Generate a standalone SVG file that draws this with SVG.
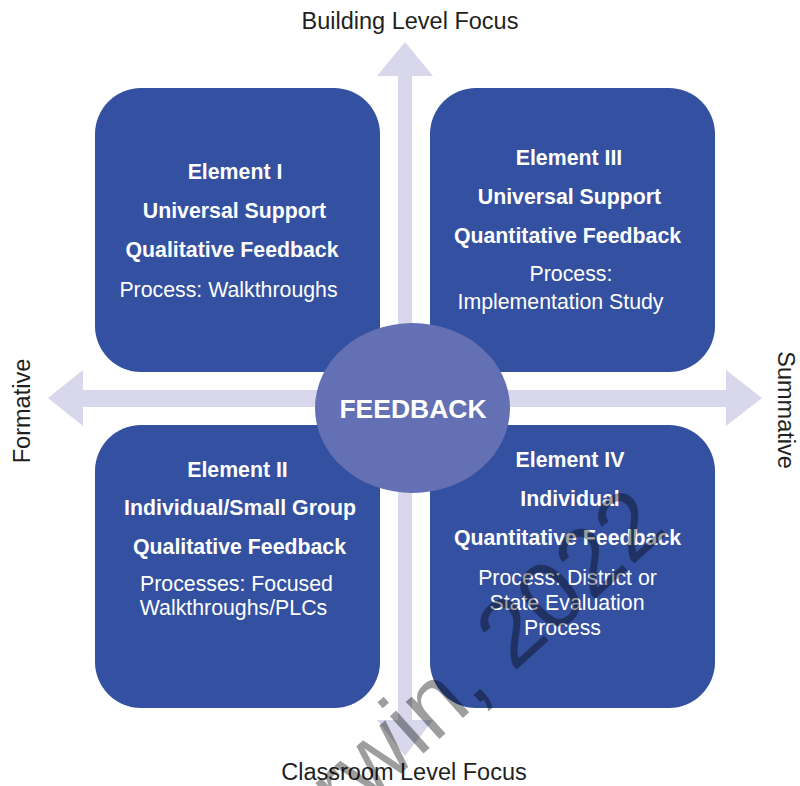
<svg xmlns="http://www.w3.org/2000/svg" width="800" height="786" viewBox="0 0 800 786">
<style>
.box{fill:#3450A0}
.b{font-family:"Liberation Sans",Arial,sans-serif;font-weight:bold;font-size:21.3px;fill:#fff;text-anchor:middle}
.r{font-family:"Liberation Sans",Arial,sans-serif;font-size:21.3px;fill:#fff;text-anchor:middle}
.lbl{font-family:"Liberation Sans",Arial,sans-serif;font-size:23.5px;fill:#231f20;text-anchor:middle}
.ar{fill:#D9D7EC}
</style>
<rect width="800" height="786" fill="#fff"/>
<g id="connectors">
<rect class="ar" x="398" y="74" width="14" height="648"/>
<polygon class="ar" points="405,42 433,76 377,76"/>
<polygon class="ar" points="405,756 433,720 377,720"/>
<rect class="ar" x="80" y="390" width="650" height="17"/>
<polygon class="ar" points="48,398 83,370 83,426"/>
<polygon class="ar" points="762,398 726,370 726,426"/>
</g>
<g id="element1">
<rect class="box" x="95" y="88" width="285" height="284" rx="46"/>
<text class="b" x="235" y="179">Element I</text>
<text class="b" x="234.5" y="218">Universal Support</text>
<text class="b" x="232" y="257">Qualitative Feedback</text>
<text class="r" x="228.5" y="297">Process: Walkthroughs</text>
</g>
<g id="element3">
<rect class="box" x="430" y="88" width="285" height="284" rx="46"/>
<text class="b" x="569" y="165">Element III</text>
<text class="b" x="569.5" y="204">Universal Support</text>
<text class="b" x="567.5" y="243">Quantitative Feedback</text>
<text class="r" x="571" y="281">Process:</text>
<text class="r" x="560.5" y="309">Implementation Study</text>
</g>
<g id="element2">
<rect class="box" x="95" y="425" width="285" height="283" rx="46"/>
<text class="b" x="237.5" y="477">Element II</text>
<text class="b" x="240" y="515">Individual/Small Group</text>
<text class="b" x="239.5" y="554">Qualitative Feedback</text>
<text class="r" x="236.5" y="591">Processes: Focused</text>
<text class="r" x="233.5" y="615">Walkthroughs/PLCs</text>
</g>
<g id="element4">
<rect class="box" x="430" y="425" width="285" height="283" rx="46"/>
<text class="b" x="570" y="467">Element IV</text>
<text class="b" x="570" y="506">Individual</text>
<text class="b" x="567.5" y="545">Quantitative Feedback</text>
<text class="r" x="567.5" y="585">Process: District or</text>
<text class="r" x="567" y="610">State Evaluation</text>
<text class="r" x="562.5" y="635">Process</text>
</g>
<g id="feedback">
<ellipse cx="412.5" cy="408" rx="97.5" ry="85" fill="#6470B4"/>
<text x="413" y="417.5" font-family="Liberation Sans,Arial,sans-serif" font-weight="bold" font-size="26.5" fill="#fff" text-anchor="middle">FEEDBACK</text>
</g>
<g id="labels">
<text class="lbl" x="410" y="29">Building Level Focus</text>
<text class="lbl" x="404" y="780">Classroom Level Focus</text>
<text class="lbl" transform="translate(30,411) rotate(-90)">Formative</text>
<text class="lbl" transform="translate(778,410) rotate(90)">Summative</text>
</g>
<text x="0" y="0" transform="translate(254,906) rotate(-42)" font-family="Liberation Sans,Arial,sans-serif" font-size="95" fill="#000" fill-opacity="0.38">Corwin, 2022</text>
</svg>
